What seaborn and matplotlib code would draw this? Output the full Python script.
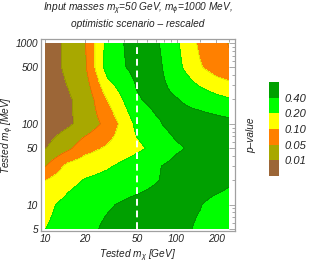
import numpy as np
import matplotlib
matplotlib.use("Agg")
import matplotlib.pyplot as plt
import seaborn as sns
from matplotlib.ticker import FixedLocator, NullFormatter

# ---------------- data ----------------
mx_tested = [10, 15, 20, 30, 50, 70, 100, 150, 200, 250]          # GeV
mphi_tested = [5, 10, 20, 30, 50, 100, 200, 500, 1000]            # MeV
p_row_5 = [0.199, 0.28, 0.34, 0.52, 0.70, 0.70, 0.58, 0.37, 0.32, 0.30]
p_row_10 = [0.175, 0.26, 0.32, 0.38, 0.58, 0.64, 0.58, 0.43, 0.34, 0.32]
p_row_20 = [0.10, 0.17, 0.21, 0.26, 0.32, 0.39, 0.58, 0.70, 0.64, 0.49]
p_row_30 = [0.048, 0.13, 0.16, 0.19, 0.30, 0.38, 0.58, 0.70, 0.70, 0.70]
p_row_50 = [0.0095, 0.042, 0.08, 0.115, 0.18, 0.25, 0.37, 0.58, 0.64, 0.64]
p_row_100 = [0.004, 0.0085, 0.024, 0.065, 0.25, 0.37, 0.64, 0.70, 0.64, 0.58]
p_row_200 = [0.004, 0.009, 0.022, 0.105, 0.38, 0.58, 0.43, 0.32, 0.26, 0.22]
p_row_500 = [0.005, 0.018, 0.0424, 0.30, 0.58, 0.58, 0.26, 0.11, 0.075, 0.06]
p_row_1000 = [0.005, 0.0188, 0.046, 0.28, 0.70, 0.49, 0.23, 0.091, 0.07, 0.048]

p_levels = [0.01, 0.05, 0.10, 0.20, 0.40]
p_level_labels = ["0.01", "0.05", "0.10", "0.20", "0.40"]
level_colors = ["#9c6637", "#a8a800", "#ff8000", "#ffff00", "#00ff00", "#00a000"]
input_mx = 50
x_ticks = [10, 20, 50, 100, 200]
y_ticks = [5, 10, 50, 100, 500, 1000]

# ---------------- style ----------------
sns.set_style("white")
plt.rcParams["font.family"] = ["Liberation Sans", "DejaVu Sans"]
plt.rcParams["mathtext.fontset"] = "custom"
plt.rcParams["mathtext.it"] = "Liberation Sans:italic"
plt.rcParams["mathtext.rm"] = "Liberation Sans:italic"
plt.rcParams["mathtext.default"] = "it"

P = np.array([p_row_5, p_row_10, p_row_20, p_row_30, p_row_50,
              p_row_100, p_row_200, p_row_500, p_row_1000])

# p-value -> band index (uniform colour bands as in the legend)
bounds_p = [0.0] + p_levels + [1.0]
Z = np.interp(P, bounds_p, np.arange(len(bounds_p)))

# bilinear interpolation in log-log space onto a fine grid
lx = np.log10(mx_tested)
ly = np.log10(mphi_tested)
lxf = np.linspace(lx[0], lx[-1], 400)
lyf = np.linspace(ly[0], ly[-1], 400)
Zx = np.array([np.interp(lxf, lx, r) for r in Z])
Zf = np.array([np.interp(lyf, ly, Zx[:, j]) for j in range(len(lxf))]).T
Zf = np.clip(Zf, 0.001, 5.999)

fig = plt.figure(figsize=(3.10, 2.66), dpi=100)
ax = fig.add_axes([41 / 310, 1 - 231 / 266, 194 / 310, 192 / 266])

cf = ax.contourf(10 ** lxf, 10 ** lyf, Zf, levels=[0, 1, 2, 3, 4, 5, 6],
                 colors=level_colors, antialiased=False)
ax.contour(10 ** lxf, 10 ** lyf, Zf, levels=[1, 2, 3, 4, 5],
           colors="#000000", linewidths=0.3, alpha=0.25)

ax.plot([input_mx, input_mx], [mphi_tested[0], mphi_tested[-1]],
        color="white", lw=1.4, ls=(0, (3.5, 2.5)))

ax.set_xscale("log")
ax.set_yscale("log")
ax.set_xlim(9.3, 278)
ax.set_ylim(4.72, 1121)

ax.xaxis.set_major_locator(FixedLocator(x_ticks))
ax.set_xticklabels([str(t) for t in x_ticks])
ax.yaxis.set_major_locator(FixedLocator(y_ticks))
ax.set_yticklabels([str(t) for t in y_ticks])
ax.xaxis.set_minor_locator(FixedLocator([30, 40, 60, 70, 80, 90, 150, 250]))
ax.yaxis.set_minor_locator(FixedLocator([6, 7, 8, 9, 20, 30, 40, 60, 70, 80, 90,
                                         200, 300, 400, 600, 700, 800, 900]))
ax.xaxis.set_minor_formatter(NullFormatter())
ax.yaxis.set_minor_formatter(NullFormatter())
ax.tick_params(which="both", direction="in", top=True, right=True,
               color="#9a9a9a", width=0.6)
ax.tick_params(which="major", length=4, labelsize=7.3, pad=2, labelcolor="#222222")
ax.tick_params(which="minor", length=2)
for lab in ax.get_xticklabels() + ax.get_yticklabels():
    lab.set_fontstyle("italic")
for s in ax.spines.values():
    s.set_color("#a0a0a0")
    s.set_linewidth(0.9)

# titles and axis labels
fig.text(138 / 310, 1 - 9 / 266,
         r"Input masses $m_{\chi}$=50 GeV, $m_{\phi}$=1000 MeV,",
         ha="center", va="center", fontsize=7.3, fontstyle="italic", color="#222222")
fig.text(138 / 310, 1 - 24 / 266, "optimistic scenario \u2013 rescaled",
         ha="center", va="center", fontsize=7.3, fontstyle="italic", color="#222222")
fig.text(138 / 310, 1 - 256 / 266, r"Tested $m_{\chi}$ [GeV]",
         ha="center", va="center", fontsize=7.3, fontstyle="italic", color="#222222")
fig.text(8 / 310, 1 - 135 / 266, r"Tested $m_{\phi}$ [MeV]", rotation=90,
         ha="center", va="center", fontsize=7.3, fontstyle="italic", color="#222222")

# colour bar legend
cax = fig.add_axes([269 / 310, 1 - 176 / 266, 10 / 310, 94 / 266])
cb = fig.colorbar(cf, cax=cax, ticks=[1, 2, 3, 4, 5])
cb.set_ticklabels(p_level_labels)
cb.outline.set_visible(False)
cax.tick_params(length=0, labelsize=8, pad=4, labelcolor="#222222")
for lab in cax.get_yticklabels():
    lab.set_fontstyle("italic")
fig.text(251 / 310, 1 - 135 / 266, "p\u2013value", rotation=90,
         ha="center", va="center", fontsize=7.3, fontstyle="italic", color="#222222")

fig.savefig("out.png", dpi=100)
